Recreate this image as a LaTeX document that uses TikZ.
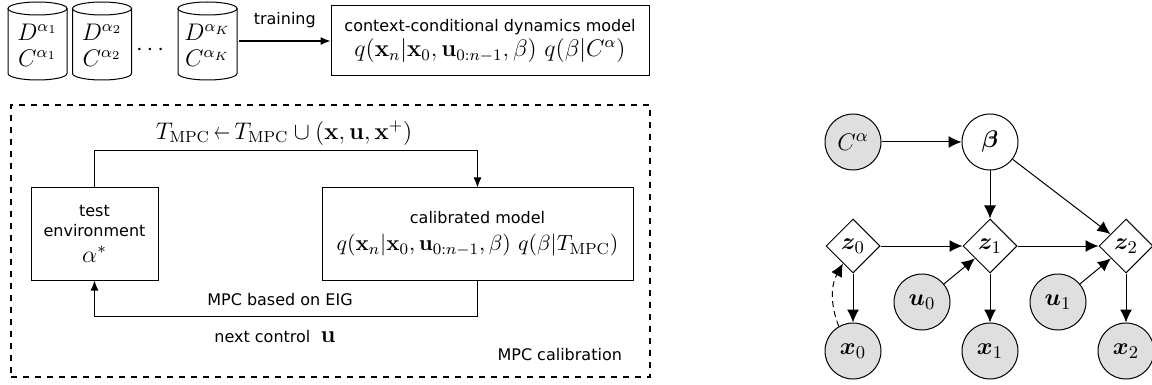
\documentclass[tikz,border=0pt]{standalone}
\usepackage{amsmath,amssymb,bm,graphicx}
\usepackage[no-math]{fontspec}
\newfontfamily\dejavu{DejaVu Sans}
\usetikzlibrary{shapes.geometric,arrows.meta}
\newcommand{\tx}{\dejavu\fontsize{8}{10}\selectfont}
\newcommand{\shortgets}{\mkern3mu{\scalebox{0.68}[1]{$\leftarrow$}}\mkern3mu}
\newcommand{\dbcyl}[2]{%
  \draw[line width=0.5pt, fill=white] (#1-29.5,#2-32.5) -- (#1-29.5,#2+32.5)
    arc[start angle=180, end angle=360, x radius=14.75pt, y radius=3.25pt] -- (#1+29.5,#2-32.5);
  \draw[line width=0.5pt] (#1,#2-32.5) ellipse[x radius=14.75pt, y radius=3.25pt];}
\begin{document}
\begin{tikzpicture}[x=0.5pt,y=-0.5pt,
  arr/.style={-{Latex[length=5pt,width=4pt]}, line width=0.6pt},
  garr/.style={-{Latex[length=6.5pt,width=6pt]}, line width=0.5pt},
  txt/.style={font=\tx},
  mth/.style={font=\fontsize{11.5}{14}\selectfont},
  box/.style={draw, line width=0.5pt, align=center, inner sep=0pt, font=\fontsize{11.5}{14}\selectfont},
  cyltxt/.style={align=center, inner sep=0pt, font=\fontsize{12}{14}\selectfont},
  obs/.style={draw, circle, minimum size=28pt, inner sep=0pt, fill=gray!25, line width=0.5pt, font=\fontsize{12.5}{14}\selectfont},
  lat/.style={draw, circle, minimum size=28pt, inner sep=0pt, fill=white, line width=0.5pt, font=\fontsize{12.5}{14}\selectfont},
  det/.style={draw, diamond, aspect=1, minimum size=27pt, inner sep=0pt, fill=white, line width=0.5pt, font=\fontsize{12.5}{14}\selectfont}]
\useasboundingbox (0,0) rectangle (1152,385);

% top: datasets
\dbcyl{37.5}{41}
\dbcyl{102}{41}
\dbcyl{207.5}{41}
\node[cyltxt] (t1) at (37.5,45) {$D^{\alpha_1}$\\[-1pt]$C^{\alpha_1}$};
\node[cyltxt] (t2) at (102,45) {$D^{\alpha_2}$\\[-1pt]$C^{\alpha_2}$};
\node[cyltxt] (tK) at (207.5,45) {$D^{\alpha_K}$\\[-1pt]$C^{\alpha_K}$};
\coordinate (dKe) at (239,41);
\node[mth] (dots) at (152,50) {$\cdots$};
\node[box, minimum width=159pt, minimum height=35pt] (model) at (490,41)
  {{\tx context-conditional dynamics model}\\[-1.5pt]
   $q(\mathbf{x}_n|\mathbf{x}_0,\mathbf{u}_{0:n-1},\beta)\ q(\beta|C^{\alpha})$};
\draw[arr] (dKe) -- (model.west) node[midway, above=3pt, txt] (trn) {training};

% MPC calibration
\node[draw, dashed, line width=0.6pt, minimum width=319.5pt, minimum height=136pt, inner sep=0pt] (frame) at (330.5,241) {};
\node[box, minimum width=63.5pt, minimum height=46pt] (env) at (94.5,234)
  {{\tx test}\\[-4pt]{\tx environment}\\[-1pt]$\alpha^*$};
\node[box, minimum width=155.5pt, minimum height=46pt, font=\fontsize{10.8}{13.5}\selectfont] (cal) at (477.5,234)
  {{\tx calibrated model}\\[0pt]
   $q(\mathbf{x}_n|\mathbf{x}_0,\mathbf{u}_{0:n-1},\beta)\ q(\beta|T_{\mathrm{MPC}})$};
\draw[arr] (env.north) -- ++(0,-37) coordinate (c1) -| (cal.north);
\draw[arr] (cal.south) -- ++(0,36) coordinate (c2) -| (env.south);
\node[mth] (upd) at (284,133) {$T_{\mathrm{MPC}}\shortgets T_{\mathrm{MPC}}\cup(\mathbf{x},\mathbf{u},\mathbf{x}^{+})$};
\node[txt] (eig) at (280,300) {MPC based on EIG};
\node[txt] (nxt) at (275,337) {next control\ \ {\fontsize{11.5}{14}\selectfont$\mathbf{u}$}};
\node[txt, anchor=east] (cl) at (629,355) {MPC calibration};

% graphical model
\node[obs] (C) at (853,142) {$C^{\alpha}$};
\node[lat] (b) at (990,142) {$\bm{\beta}$};
\node[det] (z0) at (853,246) {$\bm{z}_0$};
\node[det] (z1) at (990,246) {$\bm{z}_1$};
\node[det] (z2) at (1126,246) {$\bm{z}_2$};
\node[obs] (u0) at (922,302) {$\bm{u}_0$};
\node[obs] (u1) at (1058,302) {$\bm{u}_1$};
\node[obs] (x0) at (853,351) {$\bm{x}_0$};
\node[obs] (x1) at (990,351) {$\bm{x}_1$};
\node[obs] (x2) at (1126,351) {$\bm{x}_2$};
\draw[garr] (C) -- (b);
\draw[garr] (b) -- (z1);
\draw[garr] (b) -- (z2);
\draw[garr] (z0) -- (z1);
\draw[garr] (z1) -- (z2);
\draw[garr] (u0) -- (z1);
\draw[garr] (u1) -- (z2);
\draw[garr] (z0) -- (x0);
\draw[garr] (z1) -- (x1);
\draw[garr] (z2) -- (x2);
\draw[garr, dashed, dash pattern=on 3pt off 2pt] (x0.120) to[bend left=25] (z0.240);
\end{tikzpicture}
\end{document}
